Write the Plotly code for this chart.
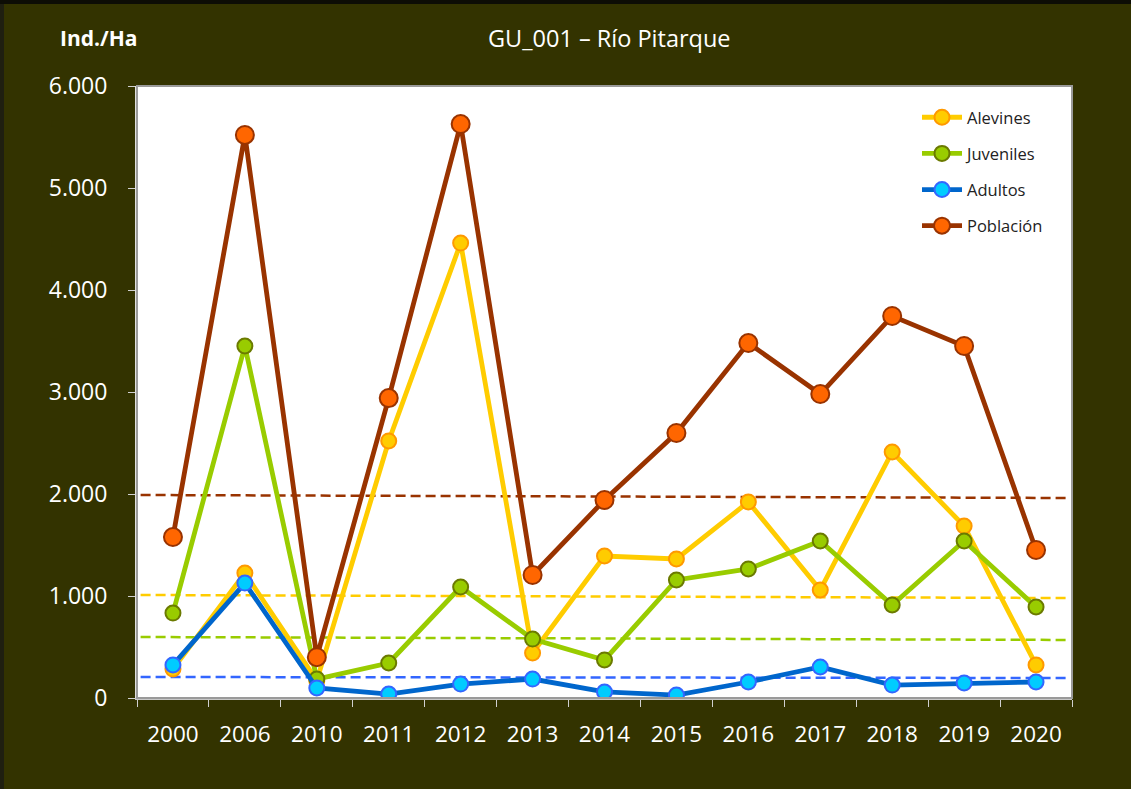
import plotly.graph_objects as go

# Sampling years (categorical x axis)
years = ["2000", "2006", "2010", "2011", "2012", "2013", "2014",
         "2015", "2016", "2017", "2018", "2019", "2020"]

# Densities (individuals per hectare) by age class
alevines = [284, 1225, 170, 2520, 4460, 441, 1392, 1363, 1922, 1059, 2412, 1686, 324]
juveniles = [833, 3451, 186, 343, 1088, 578, 373, 1157, 1265, 1539, 912, 1539, 892]
adultos = [324, 1127, 98, 39, 137, 186, 59, 29, 157, 304, 127, 147, 157]
poblacion = [1578, 5520, 400, 2940, 5627, 1206, 1941, 2598, 3480, 2980, 3745, 3451, 1451]

# Trend reference levels (start, end) for each series
trend_alevines = [1010, 980]
trend_juveniles = [598, 569]
trend_adultos = [206, 196]
trend_poblacion = [1990, 1961]

BG = "#333300"
W, H = 1131, 789
ML, MR, MT, MB = 137, 59, 86, 91
PW, PH = W - ML - MR, H - MT - MB

series = [
    # name, values, line colour, marker fill, marker edge, size
    ("Alevines", alevines, "#FFCC00", "#FFCC00", "#FF9900", 15),
    ("Juveniles", juveniles, "#99CC00", "#99CC00", "#6B7A00", 15),
    ("Adultos", adultos, "#0066CC", "#00CCFF", "#3366FF", 15),
    ("Población", poblacion, "#993300", "#FF6600", "#993300", 18),
]

fig = go.Figure()
for i, (name, vals, lc, mf, me, sz) in enumerate(series):
    fig.add_trace(go.Scatter(
        x=years, y=vals, name=name, mode="lines+markers",
        line=dict(color=lc, width=4.8),
        marker=dict(size=sz, color=mf, line=dict(color=me, width=2)),
        legendgroup=f"g{i}",
    ))

trends = [
    (trend_poblacion, "#993300"),
    (trend_alevines, "#FFCC00"),
    (trend_juveniles, "#99CC00"),
    (trend_adultos, "#3366FF"),
]
shapes = []
for (y0, y1), col in trends:
    shapes.append(dict(
        type="line", xref="x", yref="y", x0=-0.45, x1=len(years) - 0.55,
        y0=y0, y1=y1, layer="below",
        line=dict(color=col, width=2.5, dash="10px,5px"),
    ))

# Plot-area frame (grey edge on top / right / bottom)
shapes.append(dict(type="rect", xref="paper", yref="paper", x0=0, x1=1, y0=0, y1=1,
                   line=dict(color="#9a9a9a", width=2), layer="above"))
# Thin outer frame on the top and left edges
shapes.append(dict(type="rect", xref="paper", yref="paper",
                   x0=-ML / PW, x1=-(ML - 4) / PW, y0=-MB / PH, y1=1 + MT / PH,
                   line=dict(width=0), fillcolor="#1f1f10", layer="above"))
shapes.append(dict(type="rect", xref="paper", yref="paper",
                   x0=-ML / PW, x1=1 + MR / PW, y0=1 + (MT - 4) / PH, y1=1 + MT / PH,
                   line=dict(width=0), fillcolor="#0d0d05", layer="above"))

fig.update_layout(
    width=W, height=H,
    margin=dict(l=ML, r=MR, t=MT, b=MB, pad=0),
    paper_bgcolor=BG, plot_bgcolor="white",
    separators=",.",
    font=dict(family="Open Sans", color="white", size=20),
    showlegend=True,
    legend=dict(
        x=(917 - ML) / PW, y=1 - (100 - MT) / PH, xanchor="left", yanchor="top",
        bgcolor="rgba(0,0,0,0)", font=dict(size=16.5, color="#222222"),
        tracegroupgap=11.7, itemwidth=40,
    ),
    shapes=shapes,
    annotations=[
        dict(text="GU_001 – Río Pitarque", xref="paper", yref="paper",
             x=(609 - ML) / PW, y=1 + (MT - 38) / PH, xanchor="center", yanchor="middle",
             showarrow=False, font=dict(size=23.5, color="white")),
        dict(text="<b>Ind./Ha</b>", xref="paper", yref="paper",
             x=(98 - ML) / PW, y=1 + (MT - 38) / PH, xanchor="center", yanchor="middle",
             showarrow=False, font=dict(size=21, color="white")),
    ],
)

fig.update_xaxes(
    type="category", range=[-0.5, len(years) - 0.5],
    showgrid=False, zeroline=False,
    showline=True, linecolor="#c8c8c8", linewidth=2,
    ticks="outside", tickson="boundaries", ticklen=7, tickcolor="#d0d0d0", tickwidth=1,
    tickfont=dict(size=22.5, color="white"), ticklabelstandoff=15,
)
fig.update_yaxes(
    range=[0, 6000], tickvals=[0, 1000, 2000, 3000, 4000, 5000, 6000],
    tickformat=",d",
    showgrid=False, zeroline=False,
    showline=True, linecolor="#e0e0e0", linewidth=2,
    ticks="outside", ticklen=7, tickcolor="#d0d0d0", tickwidth=1,
    tickfont=dict(size=23, color="white"), ticklabelstandoff=16,
)

fig.write_html("out.html")
